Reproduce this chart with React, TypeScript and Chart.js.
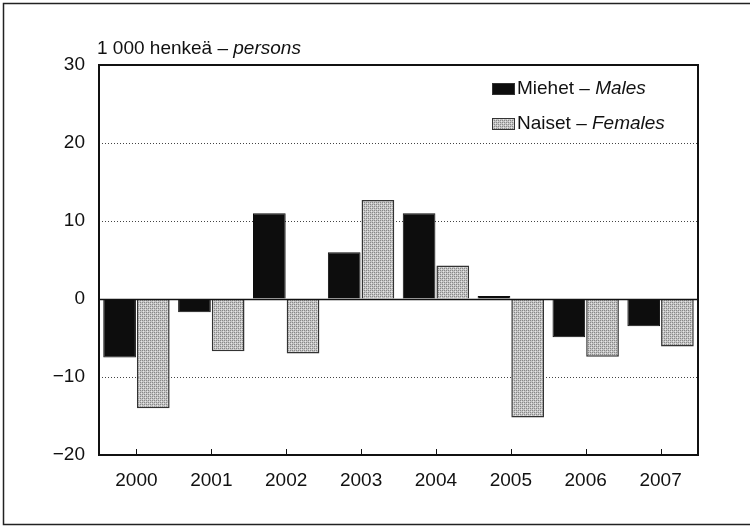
import React, { useEffect, useRef } from "react";
import { Chart, registerables } from "chart.js";

Chart.register(...registerables);

const years = ["2000", "2001", "2002", "2003", "2004", "2005", "2006", "2007"];
const males = [-7.5, -1.7, 11.0, 6.0, 11.0, 0.4, -4.9, -3.5];
const females = [-14.0, -6.7, -7.0, 12.7, 4.3, -15.2, -7.4, -6.1];
const maleLabel = ["Miehet – ", "Males"];
const femaleLabel = ["Naiset – ", "Females"];
const titleParts = ["1 000 henkeä – ", "persons"];
const yMin = -20;
const yMax = 30;
const yStep = 10;

const FONT = "'Liberation Sans', Arial, sans-serif";
const FS = 19;

function makePattern(ctx: CanvasRenderingContext2D): CanvasPattern | string {
  const c = document.createElement("canvas");
  c.width = 4;
  c.height = 4;
  const p = c.getContext("2d");
  if (!p) return "#bbbbbb";
  p.fillStyle = "#c4c4c4";
  p.fillRect(0, 0, 4, 4);
  p.fillStyle = "#888888";
  p.fillRect(0, 0, 1, 1);
  p.fillRect(2, 2, 1, 1);
  p.fillRect(2, 0, 1, 1);
  p.fillRect(0, 2, 1, 1);
  p.fillStyle = "#e6e6e6";
  p.fillRect(1, 1, 1, 1);
  p.fillRect(3, 3, 1, 1);
  return ctx.createPattern(c, "repeat") || "#bbbbbb";
}

function drawMixed(ctx: CanvasRenderingContext2D, parts: string[], x: number, y: number) {
  ctx.textBaseline = "middle";
  ctx.textAlign = "left";
  ctx.fillStyle = "#111";
  ctx.font = `${FS}px ${FONT}`;
  ctx.fillText(parts[0], x, y);
  const w = ctx.measureText(parts[0]).width;
  ctx.font = `italic ${FS}px ${FONT}`;
  ctx.fillText(parts[1], x + w, y);
}

export default function App() {
  const ref = useRef<HTMLCanvasElement | null>(null);
  useEffect(() => {
    const canvas = ref.current;
    if (!canvas) return;
    const ctx = canvas.getContext("2d");
    if (!ctx) return;
    const pattern = makePattern(ctx);

    const decor = {
      id: "decor",
      beforeDraw(chart: any) {
        const c = chart.ctx;
        c.save();
        c.fillStyle = "#fff";
        c.fillRect(0, 0, chart.width, chart.height);
        c.strokeStyle = "#222";
        c.lineWidth = 1.5;
        c.beginPath();
        c.moveTo(770, 3.5);
        c.lineTo(3.5, 3.5);
        c.lineTo(3.5, 524.5);
        c.lineTo(770, 524.5);
        c.stroke();
        c.restore();
      },
      afterDatasetsDraw(chart: any) {
        const c = chart.ctx;
        const a = chart.chartArea;
        const y = chart.scales.y;
        const x = chart.scales.x;
        c.save();
        const y0 = Math.round(y.getPixelForValue(0)) + 0.5;
        c.strokeStyle = "#111";
        c.lineWidth = 1.5;
        c.beginPath();
        c.moveTo(a.left, y0);
        c.lineTo(a.right, y0);
        c.stroke();
        c.lineWidth = 2;
        c.strokeRect(a.left, a.top, a.right - a.left, a.bottom - a.top);
        c.lineWidth = 1;
        for (let i = 0; i < years.length; i++) {
          const px = Math.round(x.getPixelForValue(i)) + 0.5;
          c.beginPath();
          c.moveTo(px, a.bottom);
          c.lineTo(px, a.bottom - 6);
          c.stroke();
        }
        drawMixed(c, titleParts, 97, 49);
        const ds = chart.data.datasets;
        const items = [
          { parts: maleLabel, fill: ds[0].backgroundColor, y: 89 },
          { parts: femaleLabel, fill: ds[1].backgroundColor, y: 124 },
        ];
        for (const it of items) {
          c.fillStyle = it.fill;
          c.fillRect(492, it.y - 6, 23, 12);
          c.strokeStyle = "#333";
          c.lineWidth = 1;
          c.strokeRect(492.5, it.y - 5.5, 22, 11);
          drawMixed(c, it.parts, 517, it.y);
        }
        c.restore();
      },
    };

    const chart = new Chart(ctx, {
      type: "bar",
      data: {
        labels: years,
        datasets: [
          {
            label: maleLabel.join(""),
            data: males,
            backgroundColor: "#0d0d0d",
            borderColor: "#0d0d0d",
            borderWidth: 1,
            barPercentage: 0.97,
            categoryPercentage: 0.9,
          },
          {
            label: femaleLabel.join(""),
            data: females,
            backgroundColor: pattern as any,
            borderColor: "#333",
            borderWidth: 1.5,
            barPercentage: 0.97,
            categoryPercentage: 0.9,
          },
        ],
      },
      options: {
        responsive: false,
        animation: false,
        layout: { padding: { top: 65, right: 52, left: 0, bottom: 0 } },
        plugins: {
          legend: { display: false },
          title: { display: false },
          tooltip: { enabled: false },
        },
        scales: {
          x: {
            grid: { display: false },
            border: { display: false },
            ticks: {
              color: "#111",
              font: { family: FONT, size: FS },
              padding: 6,
              maxRotation: 0,
            },
            afterFit(scale: any) {
              scale.height = 72;
            },
          },
          y: {
            min: yMin,
            max: yMax,
            grid: {
              color: (ctx: any) => {
                const v = ctx.tick && ctx.tick.value;
                if (v === yMin || v === yMax || v === 0) return "rgba(0,0,0,0)";
                return "#444";
              },
              lineWidth: 1,
              drawTicks: false,
            },
            border: { display: false, dash: [1, 2] },
            ticks: {
              stepSize: yStep,
              color: "#111",
              font: { family: FONT, size: FS },
              padding: 14,
              callback: (v: any) => (Number(v) < 0 ? "\u2212" + Math.abs(Number(v)) : String(v)),
            },
            afterFit(scale: any) {
              scale.width = 99;
            },
          },
        },
      },
      plugins: [decor],
    });
    return () => chart.destroy();
  }, []);

  return (
    <div style={{ position: "fixed", left: 0, top: 0, width: 750, height: 527, background: "#fff" }}>
      <canvas ref={ref} width={750} height={527} style={{ display: "block" }} />
    </div>
  );
}
